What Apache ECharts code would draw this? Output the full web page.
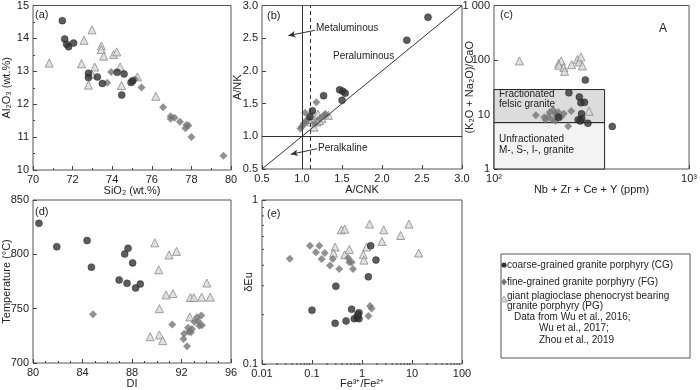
<!DOCTYPE html>
<html>
<head>
<meta charset="utf-8">
<script src="https://cdn.jsdelivr.net/npm/echarts@6/dist/echarts.min.js"></script>
<style>
html, body { margin: 0; padding: 0; background: #fff; }
#main { width: 700px; height: 390px; }
</style>
</head>
<body>
<div id="main"></div>
<script>
// (a) SiO2 vs Al2O3
var cgA = [[71.48,14.54],[71.6,13.98],[71.7,13.82],[71.8,13.75],[72.05,13.86],[72.8,12.94],[72.8,12.81],[73.25,12.83],[73.5,12.63],[74.25,12.97],[74.6,12.92],[74.48,12.28],[74.95,12.66],[75.03,12.71]];
var fgA = [[73.75,12.65],[73.95,12.98],[75.15,12.76],[75.48,12.51],[76.57,11.91],[76.95,11.63],[76.95,11.56],[77.15,11.59],[77.42,11.47],[77.7,11.27],[77.75,11.37],[77.85,11.35],[78.0,11.0],[79.62,10.43]];
var pgA = [[70.82,13.25],[72.58,13.94],[72.98,14.26],[72.45,13.23],[73.12,13.13],[72.97,12.91],[72.8,12.58],[73.45,13.77],[73.45,13.66],[73.57,13.46],[74.07,13.51],[74.23,13.59],[74.4,13.13],[74.47,12.57],[75.28,12.83],[76.2,12.24]];

// (b) A/CNK vs A/NK
var cgB = [[2.575,2.82],[2.31,2.47],[1.27,1.62],[1.47,1.71],[1.51,1.69],[1.54,1.66],[1.5,1.55],[1.13,1.39],[1.1,1.3]];
var fgB = [[1.18,1.52],[1.04,1.36],[0.98,1.12],[1.0,1.15],[1.02,1.19],[1.05,1.22],[1.06,1.25],[1.22,1.27],[1.27,1.32],[1.3,1.33],[1.16,1.2]];
var pgB = [[1.14,1.32],[1.2,1.34],[1.29,1.34],[1.11,1.22],[1.15,1.14],[1.25,1.27],[1.33,1.32],[1.08,1.26],[1.19,1.22],[1.22,1.24]];

// (c) Nb+Zr+Ce+Y vs (K2O+Na2O)/CaO
var cgC = [[294,43],[242,25],[274,21],[279,16.5],[291,16.7],[281,10.3],[282,8.4],[270,8.0],[277,7.6],[303,6.9],[404,6.05],[214,8.9]];
var fgC = [[164,9.7],[181,8.9],[184,8.0],[193,11.0],[201,12.1],[206,10.3],[211,9.6],[214,11.0],[220,8.9],[199,8.0],[228,10.3],[249,11.6],[240,6.1],[207,7.7],[190,9.2]];
var pgC = [[135,96],[215,87],[221,96],[215,80],[228,73],[230,62],[250,82],[268,103],[273,92],[279,114],[284,78],[307,11.5]];

// (d) DI vs Temperature
var cgD = [[80.48,828.5],[81.92,807],[84.37,812.7],[84.72,788.2],[87.41,800.3],[87.68,805.5],[88.05,792.1],[86.96,776.4],[87.6,773.3],[88.29,769.1],[88.67,772.7]];
var fgD = [[84.85,744.8],[91.25,735.5],[92.16,722.1],[92.21,727],[92.45,715.5],[92.53,732.4],[92.59,728.8],[92.77,728.2],[92.85,731.2],[93.04,737.9],[93.25,742.1],[93.36,738.5],[93.44,734.2],[93.6,743.6],[93.65,734.8]];
var pgD = [[89.84,810.6],[90.99,799.4],[91.6,802.7],[90.16,785.8],[90.75,762.7],[91.31,763.9],[90.21,750],[89.47,724.2],[90.21,725.8],[90.48,720.6],[92.67,742.4],[92.72,760.3],[92.99,760.3],[93.63,760.6],[94.05,773.6],[94.32,760.6]];

// (e) Fe3+/Fe2+ vs dEu
var cgE = [[1.49,0.526],[1.9,0.43],[1.34,0.34],[0.3,0.298],[0.1,0.213],[0.62,0.216],[0.29,0.177],[0.48,0.183],[0.7,0.189],[0.8,0.192],[0.87,0.205],[0.87,0.189],[0.82,0.2]];
var fgE = [[0.036,0.439],[0.091,0.526],[0.14,0.526],[0.12,0.48],[0.18,0.475],[0.156,0.437],[0.26,0.437],[0.229,0.398],[0.35,0.38],[0.53,0.443],[0.557,0.417],[0.62,0.417],[0.66,0.38],[1.45,0.226],[1.56,0.218],[1.34,0.196]];
var pgE = [[1.42,0.713],[2.71,0.658],[8.7,0.713],[0.386,0.658],[0.45,0.664],[2.51,0.559],[5.93,0.608],[13.6,0.475],[0.29,0.517],[0.27,0.475],[0.45,0.464],[0.557,0.5],[1.06,0.464],[1.09,0.43],[1.24,0.517]];

// tick labels of the log axes
var cLabelsX = ['10²', '10³'];
var cLabelsY = ['1', '10', '100', '1 000'];
var eLabelsX = ['0.01', '0.1', '1', '10', '100'];
var eLabelsY = ['0.1', '1'];

// field boundaries
var bAluminaLine = 1.0;
var bDashedLine = 1.1;
var cFracTop = 28.7;
var cFracBottom = 7.1;
var cFracRight = 369;

var font = 'Liberation Sans, Arial, sans-serif';
var ink = '#222';

var styles = {
	cg: {symbol: 'circle', symbolSize: 7, itemStyle: {color: '#333', borderColor: '#1a1a1a', borderWidth: 0.5}},
	fg: {symbol: 'diamond', symbolSize: 8, itemStyle: {color: '#767676'}},
	pg: {symbol: 'triangle', symbolSize: 8, itemStyle: {color: '#d9d9d9', borderColor: '#8a8a8a', borderWidth: 1}}
};

function axis(gi, o) {
	var a = {
		gridIndex: gi,
		type: o.type || 'value',
		min: o.min,
		max: o.max,
		name: o.name,
		nameLocation: 'middle',
		nameGap: o.gap,
		nameMoveOverlap: false,
		nameTextStyle: {color: ink, fontSize: 11, fontFamily: font},
		axisLine: {show: false},
		axisTick: {inside: true, length: 4, lineStyle: {color: '#444'}},
		minorTick: {show: !!o.minor, splitNumber: o.minor || 5, length: 2, lineStyle: {color: '#444'}},
		splitLine: {show: false},
		axisLabel: {color: ink, fontSize: 11, fontFamily: font, margin: 4, formatter: o.fmt, showMinLabel: true, showMaxLabel: true}
	};
	if (o.interval) a.interval = o.interval;
	if (a.type === 'log') a.logBase = 10;
	return a;
}

function sc(gi, kind, data) {
	return {type: 'scatter', xAxisIndex: gi, yAxisIndex: gi, data: data, z: 3, silent: true,
		symbol: styles[kind].symbol, symbolSize: styles[kind].symbolSize, itemStyle: styles[kind].itemStyle};
}

function logIdx(v) { return Math.round(Math.log(v) / Math.LN10); }

var gridBox = {show: true, borderColor: '#555', borderWidth: 1, backgroundColor: 'transparent'};
var grids = [
	{left: 31, top: 4, width: 200, height: 166},
	{left: 262, top: 4, width: 200, height: 165},
	{left: 494, top: 4, width: 198, height: 165},
	{left: 31, top: 200, width: 200, height: 165},
	{left: 262, top: 200, width: 200, height: 165}
];
grids.forEach(function(g) { for (var k in gridBox) g[k] = gridBox[k]; });

var lineStyle = {color: '#333', width: 1, type: 'solid'};

var myChart = echarts.init(document.getElementById('main'));
var option = {
	animation: false,
	backgroundColor: '#fff',
	grid: grids,
	xAxis: [
		axis(0, {min: 70, max: 80, interval: 2, minor: 2, name: 'SiO₂ (wt.%)', gap: 15}),
		axis(1, {min: 0.5, max: 3.0, interval: 0.5, name: 'A/CNK', gap: 15, fmt: function(v) { return v.toFixed(1); }}),
		axis(2, {type: 'log', min: 100, max: 1000, name: 'Nb + Zr + Ce + Y (ppm)', gap: 15, fmt: function(v) { return cLabelsX[logIdx(v) - 2]; }}),
		axis(3, {min: 80, max: 96, interval: 4, minor: 4, name: 'DI', gap: 15}),
		axis(4, {type: 'log', min: 0.01, max: 100, name: 'Fe³⁺/Fe²⁺', gap: 14, fmt: function(v) { return eLabelsX[logIdx(v) + 2]; }})
	],
	yAxis: [
		axis(0, {min: 10, max: 15, interval: 1, minor: 2, name: 'Al₂O₃ (wt.%)', gap: 21}),
		axis(1, {min: 0.5, max: 3.0, interval: 0.5, name: 'A/NK', gap: 19, fmt: function(v) { return v.toFixed(1); }}),
		axis(2, {type: 'log', min: 1, max: 1000, name: '(K₂O + Na₂O)/CaO', gap: 19, fmt: function(v) { return cLabelsY[logIdx(v)]; }}),
		axis(3, {min: 700, max: 850, interval: 50, name: 'Temperature (°C)', gap: 21}),
		axis(4, {type: 'log', min: 0.1, max: 1, name: 'δEu', gap: 8, fmt: function(v) { return eLabelsY[logIdx(v) + 1]; }})
	],
	series: [
		sc(0, 'pg', pgA), sc(0, 'fg', fgA), sc(0, 'cg', cgA),
		// (b) reference lines and arrows
		{
			type: 'line', xAxisIndex: 1, yAxisIndex: 1, data: [], silent: true, z: 1,
			markLine: {
				silent: true, symbol: ['none', 'none'], label: {show: false}, animation: false,
				lineStyle: lineStyle,
				data: [
					{xAxis: bAluminaLine},
					{xAxis: bDashedLine, lineStyle: {color: '#333', width: 1, type: [4, 3]}},
					{yAxis: 1.0},
					[{coord: [0.5, 0.5]}, {coord: [3.0, 3.0]}],
					[{coord: [1.16, 2.62]}, {coord: [0.83, 2.54], symbol: 'arrow', symbolSize: [5, 7]}],
					[{coord: [1.19, 0.81]}, {coord: [0.86, 0.725], symbol: 'arrow', symbolSize: [5, 7]}]
				]
			}
		},
		sc(1, 'pg', pgB), sc(1, 'fg', fgB), sc(1, 'cg', cgB),
		// (c) granite fields
		{
			type: 'line', xAxisIndex: 2, yAxisIndex: 2, data: [], silent: true, z: 1,
			markArea: {
				silent: true,
				itemStyle: {borderColor: '#222', borderWidth: 1},
				data: [
					[{coord: [100, 1], itemStyle: {color: '#f3f3f3'}}, {coord: [cFracRight, cFracBottom]}],
					[{coord: [100, cFracBottom], itemStyle: {color: '#dcdcdc'}}, {coord: [cFracRight, cFracTop]}]
				]
			}
		},
		sc(2, 'pg', pgC), sc(2, 'fg', fgC), sc(2, 'cg', cgC),
		sc(3, 'pg', pgD), sc(3, 'fg', fgD), sc(3, 'cg', cgD),
		sc(4, 'pg', pgE), sc(4, 'fg', fgE), sc(4, 'cg', cgE)
	]
};
myChart.setOption(option);

// texts, legend box and log minor ticks
function txt(x, y, s, size, align) {
	return {type: 'text', x: x, y: y, silent: true, z: 10,
		style: {text: s, fill: ink, font: (size || 10) + 'px ' + font, align: align || 'left', verticalAlign: 'middle'}};
}
function seg(x1, y1, x2, y2) {
	return {type: 'line', silent: true, z: 10, shape: {x1: x1, y1: y1, x2: x2, y2: y2}, style: {stroke: '#444', lineWidth: 1}};
}

var g = [];
g.push(txt(35, 15, '(a)', 11), txt(267, 16, '(b)', 11), txt(500, 15, '(c)', 11), txt(35, 212, '(d)', 11), txt(267, 214, '(e)', 11));
g.push(txt(316, 28, 'Metaluminous'), txt(333, 56, 'Peraluminous'), txt(318, 148, 'Peralkaline'));
g.push(txt(499, 94, 'Fractionated'), txt(499, 104, 'felsic granite'), txt(499, 139, 'Unfractionated'), txt(499, 150, 'M-, S-, I-, granite'));
g.push(txt(663, 29, 'A', 12, 'center'));

// legend
g.push({type: 'rect', silent: true, z: 9, shape: {x: 501, y: 254, width: 189, height: 104}, style: {fill: '#fff', stroke: '#555', lineWidth: 1}});
g.push({type: 'circle', silent: true, z: 10, shape: {cx: 504, cy: 265, r: 2.6}, style: {fill: '#333'}});
g.push({type: 'polygon', silent: true, z: 10, shape: {points: [[504, 278.5], [507, 282], [504, 285.5], [501, 282]]}, style: {fill: '#767676'}});
g.push({type: 'polygon', silent: true, z: 10, shape: {points: [[504, 296], [507.5, 302], [500.5, 302]]}, style: {fill: '#d9d9d9', stroke: '#999', lineWidth: 0.8}});
g.push(txt(507, 265, 'coarse-grained granite porphyry (CG)'), txt(507, 282, 'fine-grained granite porphyry (FG)'),
	txt(507, 296, 'giant plagioclase phenocryst bearing'), txt(507, 306, 'granite porphyry (PG)'),
	txt(514, 317, 'Data from Wu et al., 2016;'), txt(539, 328.5, 'Wu et al., 2017;'), txt(539, 340, 'Zhou et al., 2019'));

// minor ticks of panel (e) log axes
var eBottom = 365, eLeft = 262;
for (var d = -2; d < 2; d++) {
	for (var m = 2; m <= 9; m++) {
		var px = myChart.convertToPixel({xAxisIndex: 4}, m * Math.pow(10, d));
		g.push(seg(px, eBottom, px, eBottom - 2));
	}
}
for (var m2 = 2; m2 <= 9; m2++) {
	var py = myChart.convertToPixel({yAxisIndex: 4}, m2 * 0.1);
	g.push(seg(eLeft, py, eLeft + 2, py));
}

myChart.setOption({graphic: g});
</script>
</body>
</html>
